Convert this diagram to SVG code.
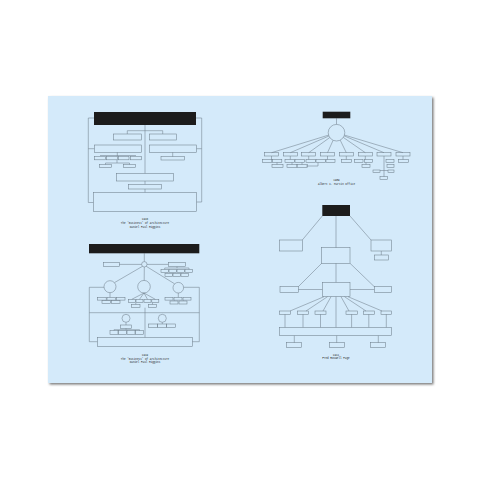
<svg xmlns="http://www.w3.org/2000/svg" width="480" height="480" viewBox="0 0 480 480">
<defs>
<filter id="sh" x="-5%" y="-5%" width="110%" height="110%"><feGaussianBlur stdDeviation="1"/></filter>
<style>
.ln{fill:none;stroke:#6f7f8c;stroke-width:0.55}
.bx{fill:none;stroke:#6f7f8c;stroke-width:0.55}
.bar{fill:#1c1c1c}
.cap{font-family:"Liberation Mono",monospace;font-size:2.7px;fill:#2a2a2a;text-anchor:middle}
</style>
</defs>
<rect width="480" height="480" fill="#ffffff"/>
<rect x="49.5" y="97.5" width="384" height="287" fill="#7a7a7a" filter="url(#sh)"/>
<rect id="panel" x="48" y="96" width="384" height="287" fill="#d4eafa"/>

<!-- Top-left diagram -->
<g id="tl-connectors">
<polyline class="ln" points="94,118 88.3,118 88.3,202.5 93.3,202.5"/>
<polyline class="ln" points="196,118 201.7,118 201.7,202 196.7,202"/>
<line class="ln" x1="88.3" y1="148.7" x2="94.3" y2="148.7"/>
<line class="ln" x1="201.7" y1="148.7" x2="196.7" y2="148.7"/>
<line class="ln" x1="145" y1="125" x2="145" y2="173.3"/>
<polyline class="ln" points="127.3,134 127.3,130.7 162.7,130.7 162.7,134"/>
<line class="ln" x1="117.3" y1="152.3" x2="117.3" y2="156.5"/>
<line class="ln" x1="100" y1="155.5" x2="136" y2="155.5"/>
<line class="ln" x1="117" y1="159.8" x2="117" y2="163"/>
<polyline class="ln" points="105.5,164.5 105.5,163 129.5,163 129.5,164.5"/>
<line class="ln" x1="172.7" y1="152.3" x2="172.7" y2="156.7"/>
<line class="ln" x1="145" y1="181" x2="145" y2="184.3"/>
<line class="ln" x1="145" y1="189" x2="145" y2="192.3"/>
</g>
<g id="tl-nodes">
<rect class="bar" x="94" y="112" width="102" height="13"/>
<rect class="bx" x="113.3" y="134" width="28.4" height="6"/>
<rect class="bx" x="149.3" y="134" width="27.4" height="6"/>
<rect class="bx" x="94.3" y="145" width="47.4" height="7.3"/>
<rect class="bx" x="149.3" y="145" width="47.4" height="7.3"/>
<rect class="bx" x="94.5" y="156.5" width="11" height="3.3"/>
<rect class="bx" x="106.5" y="156.5" width="11" height="3.3"/>
<rect class="bx" x="118.5" y="156.5" width="10.5" height="3.3"/>
<rect class="bx" x="130.5" y="156.5" width="11" height="3.3"/>
<rect class="bx" x="99.5" y="164.5" width="12" height="3"/>
<rect class="bx" x="123.5" y="164.5" width="12" height="3"/>
<rect class="bx" x="161" y="156.7" width="23.3" height="3.3"/>
<rect class="bx" x="116.7" y="173.3" width="56.6" height="7.7"/>
<rect class="bx" x="128.3" y="184.3" width="33.4" height="4.7"/>
<rect class="bx" x="93.3" y="192.3" width="103.4" height="19.4"/>
</g>
<g id="tl-caption">
<text class="cap" x="145" y="220">1916</text>
<text class="cap" x="145" y="224">The 'Business' of Architecture</text>
<text class="cap" x="145" y="228">Daniel Paul Higgins</text>
</g>

<!-- Top-right diagram -->
<g id="tr-connectors">
<line class="ln" x1="336.5" y1="118.3" x2="336.5" y2="124.4"/>
<line class="ln" x1="328.6" y1="135.1" x2="271.5" y2="152.7"/>
<line class="ln" x1="328.9" y1="136" x2="290.3" y2="152.7"/>
<line class="ln" x1="329.8" y1="137.5" x2="308.7" y2="152.7"/>
<line class="ln" x1="333.1" y1="140.3" x2="327.5" y2="152.7"/>
<line class="ln" x1="340.2" y1="140.1" x2="346.3" y2="152.7"/>
<line class="ln" x1="343.3" y1="137.4" x2="365.3" y2="152.7"/>
<line class="ln" x1="344.2" y1="135.9" x2="384" y2="152.7"/>
<line class="ln" x1="344.5" y1="135.1" x2="403" y2="152.7"/>
<line class="ln" x1="271.5" y1="156" x2="271.5" y2="159.5"/>
<line class="ln" x1="290.3" y1="156" x2="290.3" y2="159.5"/>
<line class="ln" x1="308.7" y1="156" x2="308.7" y2="159.5"/>
<line class="ln" x1="327.5" y1="156" x2="327.5" y2="159.5"/>
<line class="ln" x1="346.3" y1="156" x2="346.3" y2="159.5"/>
<line class="ln" x1="365.3" y1="156" x2="365.3" y2="159.5"/>
<line class="ln" x1="384" y1="156" x2="384" y2="176.7"/>
<line class="ln" x1="403" y1="156" x2="403" y2="159.5"/>
<line class="ln" x1="277" y1="162.5" x2="277" y2="164.5"/>
<line class="ln" x1="292" y1="162.5" x2="292" y2="164.5"/>
<line class="ln" x1="302" y1="162.5" x2="302" y2="164.5"/>
<polyline class="ln" points="306,166 318,166 318,162.5"/>
<line class="ln" x1="366" y1="162.5" x2="366" y2="164.5"/>
<line class="ln" x1="380" y1="170.5" x2="388" y2="170.5"/>
</g>
<g id="tr-nodes">
<rect class="bar" x="322.7" y="111.7" width="27.6" height="6.6"/>
<circle class="bx" cx="336.5" cy="132.7" r="8.3"/>
<rect class="bx" x="264.5" y="152.7" width="14" height="3.3"/>
<rect class="bx" x="283.3" y="152.7" width="14" height="3.3"/>
<rect class="bx" x="301.7" y="152.7" width="14" height="3.3"/>
<rect class="bx" x="320.5" y="152.7" width="14" height="3.3"/>
<rect class="bx" x="339.3" y="152.7" width="14" height="3.3"/>
<rect class="bx" x="358.3" y="152.7" width="14" height="3.3"/>
<rect class="bx" x="377" y="152.7" width="14" height="3.3"/>
<rect class="bx" x="396" y="152.7" width="14" height="3.3"/>
<rect class="bx" x="262.3" y="159.5" width="9.5" height="3"/>
<rect class="bx" x="272.3" y="159.5" width="9.5" height="3"/>
<rect class="bx" x="285" y="159.5" width="9.5" height="3"/>
<rect class="bx" x="295" y="159.5" width="9.5" height="3"/>
<rect class="bx" x="306" y="159.5" width="9.5" height="3"/>
<rect class="bx" x="316" y="159.5" width="9.5" height="3"/>
<rect class="bx" x="326" y="159.5" width="9" height="3"/>
<rect class="bx" x="341.3" y="159.5" width="10" height="3"/>
<rect class="bx" x="354.5" y="159.5" width="8.5" height="3"/>
<rect class="bx" x="364.5" y="159.5" width="8" height="3"/>
<rect class="bx" x="386" y="159.5" width="8" height="3"/>
<rect class="bx" x="398.5" y="159.5" width="10" height="3"/>
<rect class="bx" x="272" y="164.5" width="11" height="3"/>
<rect class="bx" x="287" y="164.5" width="10" height="3"/>
<rect class="bx" x="297" y="164.5" width="10.5" height="3"/>
<rect class="bx" x="362" y="164.5" width="8" height="3"/>
<rect class="bx" x="387" y="164.5" width="7" height="3"/>
<rect class="bx" x="373" y="170" width="7" height="2.7"/>
<rect class="bx" x="388" y="170" width="6" height="2.7"/>
<rect class="bx" x="380" y="176.7" width="7.5" height="3"/>
</g>
<g id="tr-caption">
<text class="cap" x="336.5" y="181">1909</text>
<text class="cap" x="336.5" y="185">Albert C. Martin Office</text>
</g>

<!-- Bottom-left diagram -->
<g id="bl-connectors">
<line class="ln" x1="144.3" y1="253.3" x2="144.3" y2="261.6"/>
<line class="ln" x1="119.3" y1="264.4" x2="141.6" y2="264.4"/>
<line class="ln" x1="147" y1="264.4" x2="168.3" y2="264.4"/>
<line class="ln" x1="177" y1="266.7" x2="177" y2="268"/>
<polyline class="ln" points="164.7,269.3 164.7,268 189,268 189,269.3"/>
<line class="ln" x1="142.5" y1="266.3" x2="114.5" y2="282.6"/>
<line class="ln" x1="144.3" y1="267" x2="144.2" y2="280.4"/>
<line class="ln" x1="146.2" y1="266.3" x2="174.6" y2="283.8"/>
<polyline class="ln" points="104,287.3 89.3,287.3 89.3,341.7 97.3,341.7"/>
<polyline class="ln" points="183.6,287.3 199.3,287.3 199.3,341.7 192.3,341.7"/>
<line class="ln" x1="89.3" y1="312.7" x2="199.3" y2="312.7"/>
<line class="ln" x1="145" y1="307.7" x2="145" y2="337.3"/>
<line class="ln" x1="110" y1="292.7" x2="110" y2="297.3"/>
<line class="ln" x1="106.2" y1="300.1" x2="106.2" y2="300.7"/>
<line class="ln" x1="115.7" y1="300.1" x2="115.7" y2="300.7"/>
<line class="ln" x1="144" y1="293" x2="131.8" y2="299.3"/>
<line class="ln" x1="144" y1="293" x2="139.5" y2="299.3"/>
<line class="ln" x1="144" y1="293" x2="147.5" y2="299.3"/>
<line class="ln" x1="144" y1="293" x2="155.3" y2="299.3"/>
<line class="ln" x1="135.8" y1="302.7" x2="135.8" y2="304.3"/>
<line class="ln" x1="152.5" y1="302.7" x2="152.5" y2="304.3"/>
<line class="ln" x1="178.3" y1="293" x2="178.3" y2="297.3"/>
<line class="ln" x1="174" y1="300.1" x2="174" y2="301"/>
<line class="ln" x1="183" y1="300.1" x2="183" y2="301"/>
<line class="ln" x1="126" y1="322.3" x2="126" y2="325"/>
<line class="ln" x1="126" y1="328.3" x2="126" y2="329.7"/>
<polyline class="ln" points="114,330.7 114,329.7 139.5,329.7 139.5,330.7"/>
<line class="ln" x1="162.3" y1="322.3" x2="162.3" y2="324"/>
</g>
<g id="bl-nodes">
<rect class="bar" x="89" y="244" width="110.3" height="9.3"/>
<circle class="bx" cx="144.3" cy="264.3" r="2.7"/>
<rect class="bx" x="103.3" y="262.3" width="16" height="4.4"/>
<rect class="bx" x="168.3" y="262.3" width="17.4" height="4.4"/>
<rect class="bx" x="161" y="269.3" width="7.5" height="3"/>
<rect class="bx" x="169" y="269.3" width="7.5" height="3"/>
<rect class="bx" x="177" y="269.3" width="7.5" height="3"/>
<rect class="bx" x="185" y="269.3" width="7.5" height="3"/>
<rect class="bx" x="165" y="273.5" width="7.5" height="3"/>
<rect class="bx" x="173" y="273.5" width="7.5" height="3"/>
<rect class="bx" x="181" y="273.5" width="7.5" height="3"/>
<circle class="bx" cx="110" cy="286.7" r="6"/>
<circle class="bx" cx="144" cy="286.7" r="6.3"/>
<circle class="bx" cx="178.3" cy="287.7" r="5.3"/>
<rect class="bx" x="97.7" y="297.3" width="8.5" height="2.8"/>
<rect class="bx" x="107" y="297.3" width="8.5" height="2.8"/>
<rect class="bx" x="116.5" y="297.3" width="8.5" height="2.8"/>
<rect class="bx" x="102" y="300.7" width="8.5" height="3"/>
<rect class="bx" x="111.5" y="300.7" width="8.5" height="3"/>
<rect class="bx" x="128.3" y="299.3" width="7" height="3.4"/>
<rect class="bx" x="136" y="299.3" width="7" height="3.4"/>
<rect class="bx" x="144" y="299.3" width="7" height="3.4"/>
<rect class="bx" x="151.8" y="299.3" width="7" height="3.4"/>
<rect class="bx" x="131.7" y="304.3" width="8.3" height="3.4"/>
<rect class="bx" x="148.3" y="304.3" width="8.4" height="3.4"/>
<rect class="bx" x="165" y="297.3" width="8" height="2.8"/>
<rect class="bx" x="174" y="297.3" width="8" height="2.8"/>
<rect class="bx" x="183" y="297.3" width="8" height="2.8"/>
<rect class="bx" x="170" y="301" width="8" height="3"/>
<rect class="bx" x="179" y="301" width="8" height="3"/>
<circle class="bx" cx="126" cy="318.3" r="4"/>
<circle class="bx" cx="162.3" cy="318.3" r="4"/>
<rect class="bx" x="120.5" y="325" width="11" height="3.3"/>
<rect class="bx" x="110" y="330.7" width="8" height="3.6"/>
<rect class="bx" x="118.5" y="330.7" width="8" height="3.6"/>
<rect class="bx" x="127" y="330.7" width="8" height="3.6"/>
<rect class="bx" x="135.5" y="330.7" width="8" height="3.6"/>
<rect class="bx" x="148.3" y="324" width="9" height="3.6"/>
<rect class="bx" x="157.5" y="324" width="9" height="3.6"/>
<rect class="bx" x="166.7" y="324" width="9" height="3.6"/>
<rect class="bx" x="97.3" y="337.3" width="95" height="9.4"/>
</g>
<g id="bl-caption">
<text class="cap" x="145" y="356">1919</text>
<text class="cap" x="145" y="359.7">The 'Business' of Architecture</text>
<text class="cap" x="145" y="363.4">Daniel Paul Higgins</text>
</g>

<!-- Bottom-right diagram -->
<g id="br-connectors">
<line class="ln" x1="322.3" y1="216" x2="302.3" y2="240"/>
<line class="ln" x1="350" y1="216" x2="371" y2="240"/>
<line class="ln" x1="336" y1="216" x2="336" y2="247.7"/>
<line class="ln" x1="381.3" y1="251" x2="381.3" y2="255"/>
<line class="ln" x1="336" y1="263.3" x2="336" y2="282.3"/>
<line class="ln" x1="321.7" y1="263.3" x2="298.3" y2="286.7"/>
<line class="ln" x1="350" y1="263.3" x2="374.3" y2="286.7"/>
<line class="ln" x1="298.3" y1="289.5" x2="322.3" y2="289.5"/>
<line class="ln" x1="350" y1="289.5" x2="374.3" y2="289.5"/>
<line class="ln" x1="324" y1="296.7" x2="290" y2="311"/>
<line class="ln" x1="327.5" y1="296.7" x2="306" y2="311"/>
<line class="ln" x1="331" y1="296.7" x2="323" y2="311"/>
<line class="ln" x1="341" y1="296.7" x2="349" y2="311"/>
<line class="ln" x1="344.5" y1="296.7" x2="366" y2="311"/>
<line class="ln" x1="348" y1="296.7" x2="382" y2="311"/>
<line class="ln" x1="336" y1="296.7" x2="336" y2="327.3"/>
<line class="ln" x1="285" y1="314.3" x2="285" y2="327.3"/>
<line class="ln" x1="303" y1="314.3" x2="303" y2="327.3"/>
<line class="ln" x1="320.5" y1="314.3" x2="320.5" y2="327.3"/>
<line class="ln" x1="351.6" y1="314.3" x2="351.6" y2="327.3"/>
<line class="ln" x1="368.8" y1="314.3" x2="368.8" y2="327.3"/>
<line class="ln" x1="386.3" y1="314.3" x2="386.3" y2="327.3"/>
<line class="ln" x1="294.3" y1="335.7" x2="294.3" y2="342.7"/>
<line class="ln" x1="336.7" y1="335.7" x2="336.7" y2="342.7"/>
<line class="ln" x1="378.3" y1="335.7" x2="378.3" y2="342.7"/>
</g>
<g id="br-nodes">
<rect class="bar" x="322.3" y="205" width="27.7" height="11"/>
<rect class="bx" x="279.3" y="240" width="23" height="11"/>
<rect class="bx" x="371" y="240" width="20.7" height="11"/>
<rect class="bx" x="374.3" y="255" width="14" height="5"/>
<rect class="bx" x="321.7" y="247.7" width="28.3" height="15.6"/>
<rect class="bx" x="322.3" y="282.3" width="27.7" height="14.4"/>
<rect class="bx" x="280" y="286.7" width="18.3" height="5.6"/>
<rect class="bx" x="374.3" y="286.7" width="17.4" height="5.6"/>
<rect class="bx" x="279.3" y="311" width="11.4" height="3.3"/>
<rect class="bx" x="297.7" y="311" width="10.6" height="3.3"/>
<rect class="bx" x="315" y="311" width="11" height="3.3"/>
<rect class="bx" x="346" y="311" width="11.3" height="3.3"/>
<rect class="bx" x="363.3" y="311" width="11" height="3.3"/>
<rect class="bx" x="381" y="311" width="10.7" height="3.3"/>
<rect class="bx" x="279.3" y="327.3" width="112.4" height="8.4"/>
<rect class="bx" x="286.7" y="342.7" width="15" height="4.6"/>
<rect class="bx" x="329.3" y="342.7" width="15" height="4.6"/>
<rect class="bx" x="370.7" y="342.7" width="15" height="4.6"/>
</g>
<g id="br-caption">
<text class="cap" x="336" y="355.7">1911</text>
<text class="cap" x="336" y="359.4">Fred Roswell Page</text>
</g>
</svg>
